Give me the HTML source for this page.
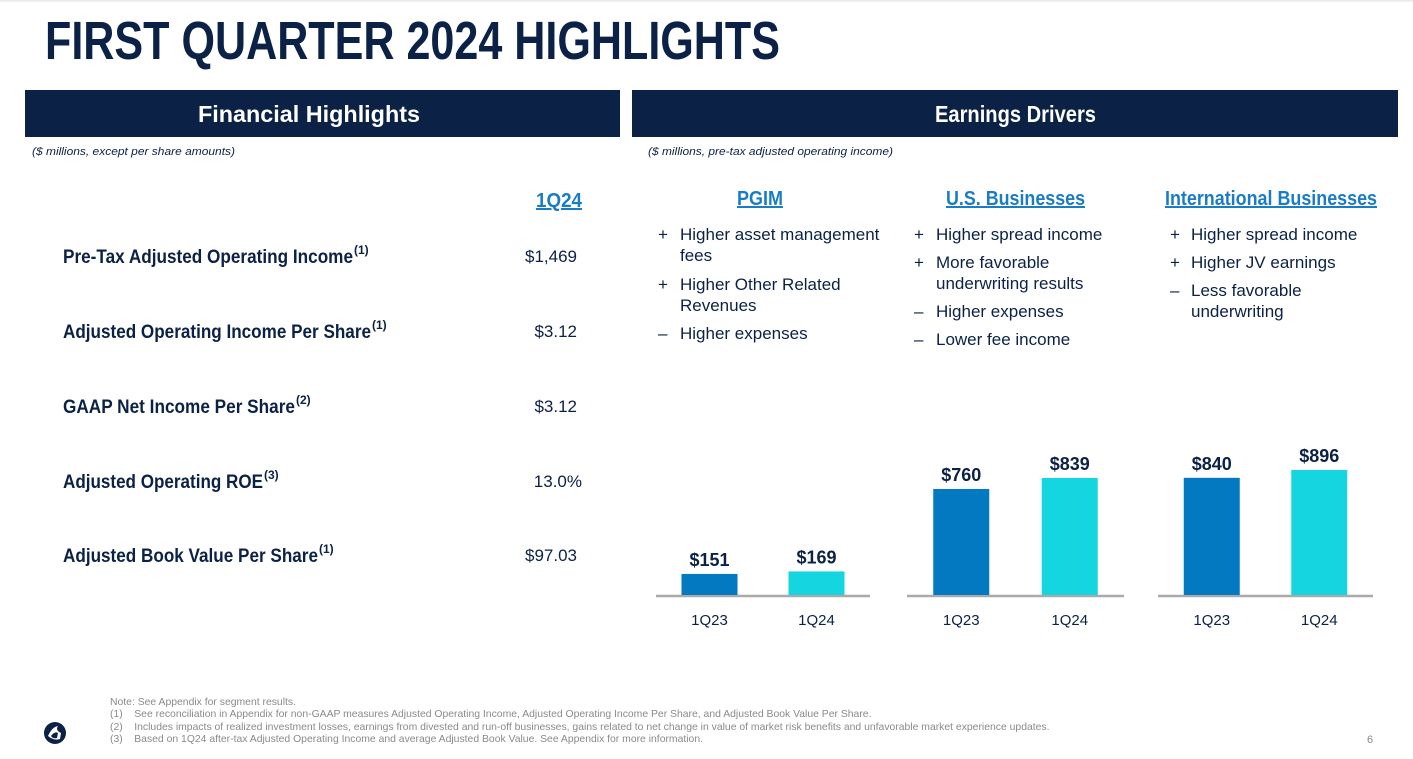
<!DOCTYPE html>
<html><head><meta charset="utf-8">
<style>
body{margin:0;width:1413px;height:759px;background:#fff;position:relative;overflow:hidden;font-family:"Liberation Sans",sans-serif;color:#0b2145}
.a{position:absolute;white-space:nowrap;transform-origin:0 0}
.bar{position:absolute;background:#0b2145}
.b{font-size:17px;color:#0b2145;line-height:21px}
</style></head><body>
<div class="a" style="left:0;top:0;width:1413px;height:3px;background:linear-gradient(#e6e6e6,#fff)"></div>
<div class="a fit" data-w="735" style="left:45px;top:10px;font-size:54px;font-weight:bold">FIRST QUARTER 2024 HIGHLIGHTS</div>

<div class="bar" style="left:25px;top:90px;width:595px;height:47px"></div>
<div class="a fit" data-w="222" style="left:198px;top:101px;font-size:23px;font-weight:bold;color:#fff">Financial Highlights</div>
<div class="bar" style="left:632px;top:90px;width:766px;height:47px"></div>
<div class="a fit" data-w="161" style="left:935px;top:101px;font-size:23px;font-weight:bold;color:#fff">Earnings Drivers</div>

<div class="a fit" data-w="203" style="left:32px;top:146px;font-size:11px;font-style:italic">($ millions, except per share amounts)</div>
<div class="a fit" data-w="245" style="left:648px;top:146px;font-size:11px;font-style:italic">($ millions, pre-tax adjusted operating income)</div>

<div class="a fit" data-w="46" style="left:536px;top:190px;font-size:20px;font-weight:bold;color:#1a7cc4;text-decoration:underline">1Q24</div>

<div class="a fit" data-w="290" style="left:63px;top:247px;font-size:19px;font-weight:bold">Pre-Tax Adjusted Operating Income</div>
<div class="a" style="left:354px;top:243px;font-size:12px;font-weight:bold">(1)</div>
<div class="a" style="left:500px;top:247px;width:77px;text-align:right;font-size:17px">$1,469</div>

<div class="a fit" data-w="308" style="left:63px;top:322px;font-size:19px;font-weight:bold">Adjusted Operating Income Per Share</div>
<div class="a" style="left:372px;top:318px;font-size:12px;font-weight:bold">(1)</div>
<div class="a" style="left:500px;top:322px;width:77px;text-align:right;font-size:17px">$3.12</div>

<div class="a fit" data-w="232" style="left:63px;top:397px;font-size:19px;font-weight:bold">GAAP Net Income Per Share</div>
<div class="a" style="left:296px;top:393px;font-size:12px;font-weight:bold">(2)</div>
<div class="a" style="left:500px;top:397px;width:77px;text-align:right;font-size:17px">$3.12</div>

<div class="a fit" data-w="200" style="left:63px;top:472px;font-size:19px;font-weight:bold">Adjusted Operating ROE</div>
<div class="a" style="left:264px;top:468px;font-size:12px;font-weight:bold">(3)</div>
<div class="a" style="left:500px;top:472px;width:82px;text-align:right;font-size:17px">13.0%</div>

<div class="a fit" data-w="255" style="left:63px;top:546px;font-size:19px;font-weight:bold">Adjusted Book Value Per Share</div>
<div class="a" style="left:319px;top:542px;font-size:12px;font-weight:bold">(1)</div>
<div class="a" style="left:500px;top:546px;width:77px;text-align:right;font-size:17px">$97.03</div>

<div class="a fit" data-w="46" style="left:737px;top:188px;font-size:20px;font-weight:bold;color:#1a7cc4;text-decoration:underline">PGIM</div>
<div class="a fit" data-w="139" style="left:946px;top:188px;font-size:20px;font-weight:bold;color:#1a7cc4;text-decoration:underline">U.S. Businesses</div>
<div class="a fit" data-w="212" style="left:1165px;top:188px;font-size:20px;font-weight:bold;color:#1a7cc4;text-decoration:underline">International Businesses</div>

<div class="a b" style="left:658px;top:224px">
<div style="position:absolute;top:0">+</div><div style="position:absolute;left:22px;top:0">Higher asset management<br>fees</div>
<div style="position:absolute;top:50px">+</div><div style="position:absolute;left:22px;top:50px">Higher Other Related<br>Revenues</div>
<div style="position:absolute;top:99px">–</div><div style="position:absolute;left:22px;top:99px">Higher expenses</div>
</div>
<div class="a b" style="left:914px;top:224px">
<div style="position:absolute;top:0">+</div><div style="position:absolute;left:22px;top:0">Higher spread income</div>
<div style="position:absolute;top:28px">+</div><div style="position:absolute;left:22px;top:28px">More favorable<br>underwriting results</div>
<div style="position:absolute;top:77px">–</div><div style="position:absolute;left:22px;top:77px">Higher expenses</div>
<div style="position:absolute;top:105px">–</div><div style="position:absolute;left:22px;top:105px">Lower fee income</div>
</div>
<div class="a b" style="left:1170px;top:224px">
<div style="position:absolute;top:0">+</div><div style="position:absolute;left:21px;top:0">Higher spread income</div>
<div style="position:absolute;top:28px">+</div><div style="position:absolute;left:21px;top:28px">Higher JV earnings</div>
<div style="position:absolute;top:56px">–</div><div style="position:absolute;left:21px;top:56px">Less favorable<br>underwriting</div>
</div>

<svg id="chart" style="position:absolute;left:0;top:0" width="1413" height="759"></svg>

<div class="a" style="left:110px;top:697px;font-size:10.4px;line-height:12.4px;color:#8a8a8a">
<div>Note: See Appendix for segment results.</div>
<div>(1)&nbsp;&nbsp;&nbsp; See reconciliation in Appendix for non-GAAP measures Adjusted Operating Income, Adjusted Operating Income Per Share, and Adjusted Book Value Per Share.</div>
<div>(2)&nbsp;&nbsp;&nbsp; Includes impacts of realized investment losses, earnings from divested and run-off businesses, gains related to net change in value of market risk benefits and unfavorable market experience updates.</div>
<div>(3)&nbsp;&nbsp;&nbsp; Based on 1Q24 after-tax Adjusted Operating Income and average Adjusted Book Value. See Appendix for more information.</div>
</div>
<div class="a" style="left:1367px;top:734px;font-size:11px;color:#8a8a8a">6</div>
<svg class="a" style="left:43px;top:721px" width="24" height="24"><circle cx="12" cy="12" r="11" fill="#0b2145"/><path d="M5 15 Q9 6 15 5 Q12 9 18 12 L17 18 Q11 20 5 15Z" fill="#fff"/><path d="M8 15 Q12 10 15 12 L14 17 Q10 18 8 15Z" fill="#0b2145"/></svg>

<script>
const categories=["1Q23","1Q24"];
const pgimValues=[151,169];
const usValues=[760,839];
const intlValues=[840,896];
const valueLabels=[["$151","$169"],["$760","$839"],["$840","$896"]];
const panels=[{x0:656,x1:870,vals:pgimValues,name:"pgim"},{x0:907,x1:1124,vals:usValues,name:"us"},{x0:1158,x1:1373,vals:intlValues,name:"intl"}];
const baseY=595, scale=0.1395, barW=56, colors=["#0279c1","#15d5e0"];
const svg=document.getElementById('chart');
const NS="http://www.w3.org/2000/svg";
function yPos(v){return baseY-v*scale;}
panels.forEach((p,pi)=>{
  const ax=document.createElementNS(NS,'line');
  ax.setAttribute('x1',p.x0);ax.setAttribute('x2',p.x1);ax.setAttribute('y1',baseY+1);ax.setAttribute('y2',baseY+1);
  ax.setAttribute('stroke','#aaa');ax.setAttribute('stroke-width','2.5');
  
  
  svg.appendChild(ax);
  const step=(p.x1-p.x0)/2;
  p.vals.forEach((v,i)=>{
    const cx=p.x0+step*(i+0.5);
    const r=document.createElementNS(NS,'rect');
    r.setAttribute('x',cx-barW/2);r.setAttribute('y',yPos(v));r.setAttribute('width',barW);r.setAttribute('height',baseY-yPos(v));r.setAttribute('fill',colors[i]);
    
    
    svg.appendChild(r);
    const t=document.createElementNS(NS,'text');
    t.setAttribute('x',cx);t.setAttribute('y',yPos(v)-8);t.setAttribute('text-anchor','middle');
    t.setAttribute('font-size','18');t.setAttribute('font-weight','bold');t.setAttribute('fill','#0b2145');
    t.setAttribute('font-family','Liberation Sans, sans-serif');
    t.textContent=valueLabels[pi][i];
    
    
    svg.appendChild(t);
    const c=document.createElementNS(NS,'text');
    c.setAttribute('x',cx);c.setAttribute('y',625);c.setAttribute('text-anchor','middle');
    c.setAttribute('font-size','15');c.setAttribute('fill','#0b2145');
    c.setAttribute('font-family','Liberation Sans, sans-serif');
    c.textContent=categories[i];
    
    
    svg.appendChild(c);
  });
});
document.querySelectorAll('.fit').forEach(el=>{
  const w=el.getBoundingClientRect().width;
  const target=+el.dataset.w;
  if(w>0) el.style.transform='scaleX('+(target/w)+')';
});
</script>
</body></html>
